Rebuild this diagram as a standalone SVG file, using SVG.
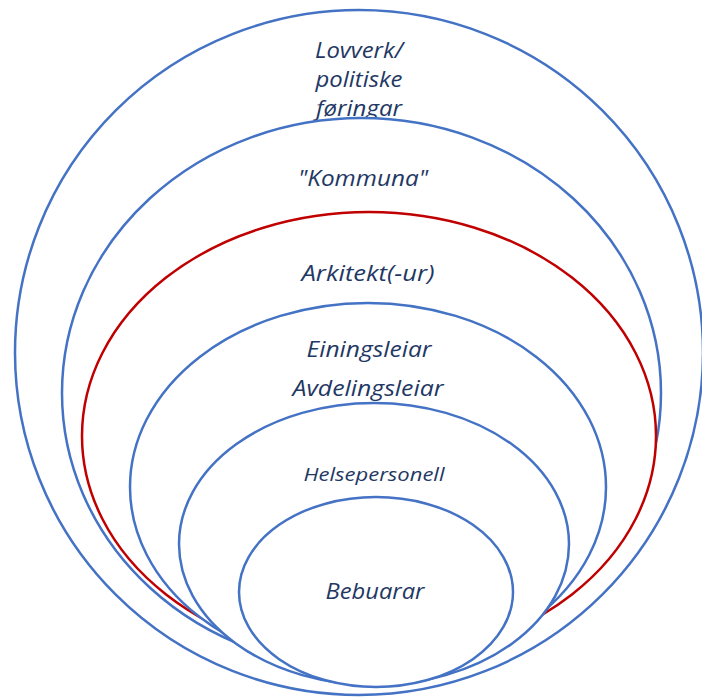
<svg xmlns="http://www.w3.org/2000/svg" width="702" height="697" viewBox="0 0 702 697">
<style>
.ring{fill:#ffffff;stroke:#4472C4;stroke-width:2.5}
.red{fill:#ffffff;stroke:#C00000;stroke-width:2.5}
.t{font-family:"Open Sans","Noto Sans","DejaVu Sans",sans-serif;font-style:italic;font-size:22px;fill:#1F3864;text-anchor:middle}
.s{font-size:19px}
</style>
<rect width="702" height="697" fill="#ffffff"/>
<g id="lovverk">
<ellipse class="ring" cx="359" cy="352.5" rx="344" ry="342.5"/>
<text class="t" x="359" y="58" textLength="88" lengthAdjust="spacingAndGlyphs">Lovverk/</text>
<text class="t" x="359" y="87" textLength="87" lengthAdjust="spacingAndGlyphs">politiske</text>
<text class="t" x="359" y="116" textLength="86" lengthAdjust="spacingAndGlyphs">føringar</text>
</g>
<g id="kommuna">
<ellipse class="ring" cx="361.5" cy="393" rx="299.5" ry="275"/>
<text class="t" x="363" y="186" textLength="130" lengthAdjust="spacingAndGlyphs">"Kommuna"</text>
</g>
<g id="arkitekt">
<ellipse class="red" cx="369" cy="436" rx="287" ry="224"/>
<text class="t" x="368" y="281" textLength="133" lengthAdjust="spacingAndGlyphs">Arkitekt(-ur)</text>
</g>
<g id="einingsleiar">
<ellipse class="ring" cx="368" cy="487" rx="238" ry="184"/>
<text class="t" x="369" y="357" textLength="125" lengthAdjust="spacingAndGlyphs">Einingsleiar</text>
<text class="t" x="368" y="396" textLength="151" lengthAdjust="spacingAndGlyphs">Avdelingsleiar</text>
</g>
<g id="helsepersonell">
<ellipse class="ring" cx="374" cy="544" rx="195" ry="141"/>
<text class="t s" x="374" y="481" textLength="141" lengthAdjust="spacingAndGlyphs">Helsepersonell</text>
</g>
<g id="bebuarar">
<ellipse class="ring" cx="376" cy="592" rx="137" ry="95"/>
<text class="t" x="375" y="599" textLength="99" lengthAdjust="spacingAndGlyphs">Bebuarar</text>
</g>
<g id="connectors"/>
</svg>
